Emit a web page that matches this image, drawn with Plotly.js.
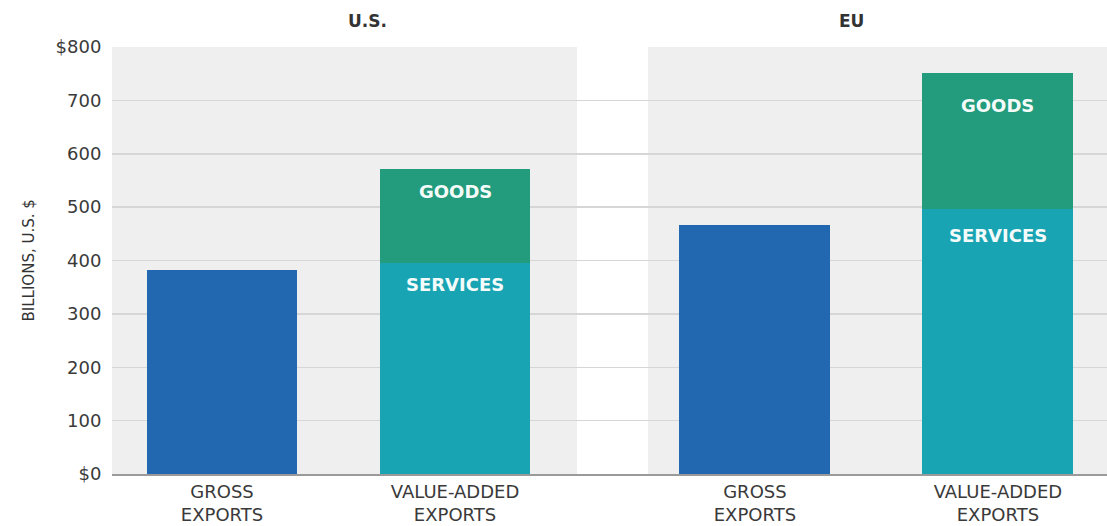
<!DOCTYPE html>
<html>
<head>
<meta charset="utf-8">
<script src="https://cdn.plot.ly/plotly-3.0.1.min.js"></script>
<style>html,body{margin:0;padding:0;background:#fff;}#chart{width:1107px;height:526px;}</style>
</head>
<body>
<div id="chart"></div>
<script>
// ---- data ----
const regions = ['U.S.', 'EU'];
const categories = ['GROSS<br>EXPORTS', 'VALUE-ADDED<br>EXPORTS'];
const grossExports = [382, 466];
const vaServices = [395, 496];
const vaGoods = [176, 255];
const yTickVals = [0, 100, 200, 300, 400, 500, 600, 700, 800];
const yTickText = ['$0', '100', '200', '300', '400', '500', '600', '700', '$800'];
const yTitle = 'BILLIONS, U.S. $';

// ---- style ----
const cGross = '#2268b0';
const cServices = '#19a4b3';
const cGoods = '#239c7d';
const font = '"DejaVu Sans", "Open Sans", Arial, sans-serif';
const barWidths = [0.644, 0.621];
const labelShift = [[-22, -21], [-32, -26]]; // [goods, services] per region

const xaxes = ['x', 'x2'];
const traces = [];
const annotations = [];
regions.forEach((r, i) => {
  const xa = xaxes[i];
  traces.push({type: 'bar', x: [categories[0]], y: [grossExports[i]], xaxis: xa, yaxis: 'y',
    width: barWidths[i], marker: {color: cGross}, hoverinfo: 'y', showlegend: false});
  traces.push({type: 'bar', x: [categories[1]], y: [vaServices[i]], xaxis: xa, yaxis: 'y',
    width: barWidths[i], marker: {color: cServices}, hoverinfo: 'y', showlegend: false});
  traces.push({type: 'bar', x: [categories[1]], y: [vaGoods[i]], xaxis: xa, yaxis: 'y',
    width: barWidths[i], marker: {color: cGoods}, hoverinfo: 'y', showlegend: false});
  annotations.push({xref: xa, yref: 'y', x: categories[1], y: vaServices[i] + vaGoods[i],
    yshift: labelShift[i][0], text: 'GOODS', showarrow: false,
    font: {family: font, size: 18, color: '#f4fbf9', weight: 'bold'}});
  annotations.push({xref: xa, yref: 'y', x: categories[1], y: vaServices[i],
    yshift: labelShift[i][1], text: 'SERVICES', showarrow: false,
    font: {family: font, size: 18, color: '#f4fbfb', weight: 'bold'}});
});

const L = 112, W = 1107;
const pw = W - L;
const gapL = (577 - L) / pw, gapR = (648 - L) / pw;

annotations.push({xref: 'paper', yref: 'paper', x: (346 - L) / pw, y: 1.06, yanchor: 'middle',
  text: regions[0], showarrow: false, font: {family: font, size: 17, color: '#333', weight: 'bold'}});
annotations.push({xref: 'paper', yref: 'paper', x: (866 - L) / pw, y: 1.06, yanchor: 'middle',
  text: regions[1], showarrow: false, font: {family: font, size: 17, color: '#333', weight: 'bold'}});
annotations.push({xref: 'paper', yref: 'paper', x: (28 - L) / pw, y: 0.5, xanchor: 'center', yanchor: 'middle',
  text: yTitle, textangle: -90, showarrow: false, font: {family: font, size: 15, color: '#333'}});

const xCommon = {
  type: 'category', categoryorder: 'array', categoryarray: categories,
  showgrid: false, zeroline: false, showline: true, linecolor: '#9a9a9a', linewidth: 2,
  ticks: '', ticklen: 0,
  tickfont: {family: font, size: 18, color: '#3a3a3a'}, fixedrange: true
};

const layout = {
  width: 1107, height: 526,
  margin: {l: L, r: 0, t: 47, b: 52},
  paper_bgcolor: '#ffffff',
  plot_bgcolor: 'rgba(0,0,0,0)',
  barmode: 'stack',
  showlegend: false,
  xaxis: Object.assign({}, xCommon, {domain: [0, gapR], range: [-0.472, 1.828], anchor: 'y'}),
  xaxis2: Object.assign({}, xCommon, {domain: [gapR, 1], range: [-0.44, 1.449], anchor: 'y'}),
  yaxis: {
    range: [0, 800], tickvals: yTickVals, ticktext: yTickText,
    showgrid: true, gridcolor: '#d6d6d6', gridwidth: 1.5, zeroline: false, showline: false,
    ticks: 'outside', ticklen: 6, tickcolor: 'rgba(0,0,0,0)',
    tickfont: {family: font, size: 18, color: '#3a3a3a'}, fixedrange: true
  },
  shapes: [
    {type: 'rect', xref: 'paper', yref: 'paper', x0: 0, x1: gapL, y0: 0, y1: 1,
      fillcolor: '#efefef', line: {width: 0}, layer: 'below'},
    {type: 'rect', xref: 'paper', yref: 'paper', x0: gapR, x1: 1, y0: 0, y1: 1,
      fillcolor: '#efefef', line: {width: 0}, layer: 'below'}
  ],
  annotations: annotations
};

Plotly.newPlot('chart', traces, layout, {displayModeBar: false, staticPlot: true});
</script>
</body>
</html>
